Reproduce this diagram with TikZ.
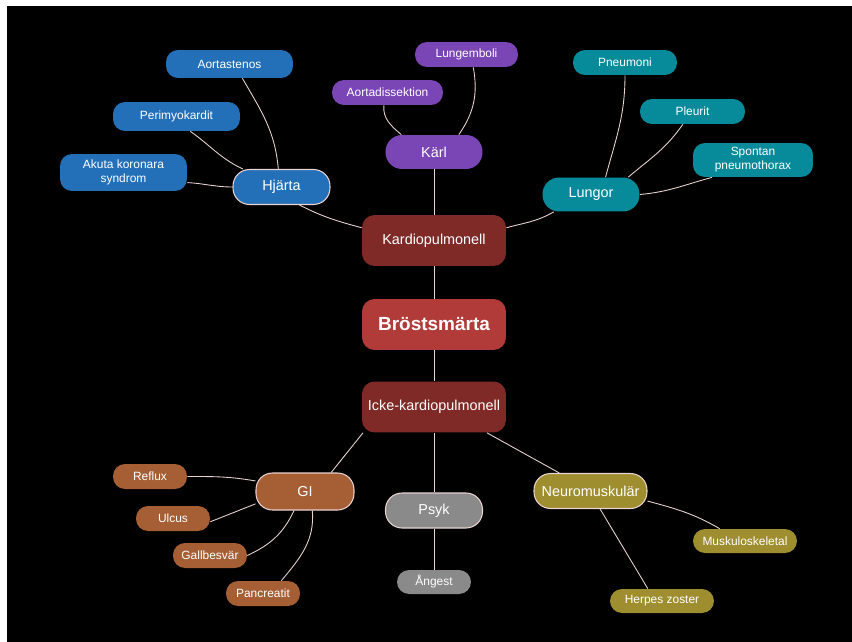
\documentclass[tikz,border=0pt]{standalone}
\usepackage{fontspec}
\setmainfont{Liberation Sans}
\usepackage{tikz}

\definecolor{brostred}{HTML}{B13B38}
\definecolor{kardred}{HTML}{7F2A27}
\definecolor{hjartblue}{HTML}{2370B9}
\definecolor{karlpurple}{HTML}{7A45B5}
\definecolor{lungteal}{HTML}{078B9B}
\definecolor{gibrown}{HTML}{A65E35}
\definecolor{psykgray}{HTML}{8A8A8A}
\definecolor{neuroolive}{HTML}{9F8E2F}
\definecolor{linkpink}{HTML}{E8D2D2}

\begin{document}
\begin{tikzpicture}[x=0.02cm,y=-0.02cm,
	trunk/.style={rounded corners=0.25cm, minimum width=2.88cm, minimum height=1.02cm, inner sep=0pt, text=white, font=\fontsize{8.2}{10}\selectfont},
	branch/.style={rounded corners=0.33cm, minimum width=1.94cm, minimum height=0.7cm, inner sep=0pt, text=white, font=\fontsize{8.2}{10}\selectfont},
	ringed/.style={draw=linkpink, line width=0.6pt},
	leaf/.style={rounded corners=0.24cm, inner sep=0pt, text=white, align=center, font=\fontsize{6.8}{8}\selectfont},
	link/.style={draw=linkpink, line width=0.5pt}]
	% background
	\fill[white] (0,0) rectangle (852,642);
	\fill[black] (7,6) rectangle (852,642);

	% centre
	\node[trunk, fill=brostred, font=\fontsize{10.8}{12}\selectfont\bfseries] (brost) at (434,324.5) {Bröstsmärta};
	\node[trunk, fill=kardred] (kardio) at (434,240.5) {Kardiopulmonell};
	\node[trunk, fill=kardred] (icke) at (434,407) {Icke-kardiopulmonell};

	% branches
	\node[branch, ringed, fill=hjartblue] (hjarta) at (281.5,187) {Hjärta};
	\node[branch, fill=karlpurple, minimum height=0.68cm] (karl) at (434,152) {Kärl};
	\node[branch, fill=lungteal, minimum height=0.68cm] (lungor) at (591,194.5) {Lungor};
	\node[branch, ringed, fill=gibrown, minimum width=1.96cm, minimum height=0.74cm] (gi) at (305,491.5) {GI};
	\node[branch, ringed, fill=psykgray] (psyk) at (434,510.5) {Psyk};
	\node[branch, ringed, fill=neuroolive, minimum width=2.26cm] (neuro) at (590.5,491) {Neuromuskulär};

	% leaves
	\foreach \n/\p/\w/\h/\t in {aortastenos/{229.5,64}/2.54/0.56/Aortastenos,
		perimyo/{176.5,116.5}/2.54/0.58/Perimyokardit,
		akuta/{123.5,172.5}/2.54/0.74/{Akuta koronara\\syndrom}}
	{
		\node[leaf, fill=hjartblue, minimum width=\w cm, minimum height=\h cm] (\n) at (\p) {\t};
	}
	\foreach \n/\p/\w/\t in {aortadiss/{387.5,92.5}/2.22/Aortadissektion,
		lungemboli/{466.5,54.5}/2.06/Lungemboli}
	{
		\node[leaf, fill=karlpurple, minimum width=\w cm, minimum height=0.5cm] (\n) at (\p) {\t};
	}
	\foreach \n/\p/\w/\h/\t in {pneumoni/{625,62.5}/2.08/0.5/Pneumoni,
		pleurit/{692.5,111.5}/2.1/0.5/Pleurit,
		spontan/{753,160}/2.4/0.68/{Spontan\\pneumothorax}}
	{
		\node[leaf, fill=lungteal, minimum width=\w cm, minimum height=\h cm] (\n) at (\p) {\t};
	}
	\foreach \n/\p/\t in {reflux/{150,476.5}/Reflux, ulcus/{173,518.5}/Ulcus,
		gallbesvar/{210,555.5}/Gallbesvär, pancreatit/{263,593.5}/Pancreatit}
	{
		\node[leaf, fill=gibrown, minimum width=1.48cm, minimum height=0.5cm] (\n) at (\p) {\t};
	}
	\node[leaf, fill=psykgray, minimum width=1.48cm, minimum height=0.48cm] (angest) at (434,582) {Ångest};
	\node[leaf, fill=neuroolive, minimum width=2.08cm, minimum height=0.48cm] (muskulo) at (745,541) {Muskuloskeletal};
	\node[leaf, fill=neuroolive, minimum width=2.08cm, minimum height=0.48cm] (herpes) at (662,601) {Herpes zoster};

	% links
	\draw[link] (brost) -- (kardio);
	\draw[link] (brost) -- (icke);
	\draw[link] (kardio) -- (karl);
	\draw[link] (icke) -- (psyk);
	\draw[link] (psyk) -- (angest);
	\draw[link] (hjarta.-45) to[out=-27,in=165] (kardio.170);
	\draw[link] (kardio.10) to[out=15,in=-150] (lungor.-155);
	\draw[link] (icke.-160) -- (gi.36);
	\draw[link] (icke.-26) -- (neuro.150);

	\draw[link] (aortastenos.-48) to[out=-60,in=95] (hjarta.100);
	\draw[link] (perimyo.-47) to[out=-35,in=155] (hjarta.155);
	\draw[link] (akuta.-9) to[out=-3,in=180] (hjarta.180);

	\draw[link] (aortadiss.-106) to[out=-95,in=140] (karl.152);
	\draw[link] (lungemboli.-62) to[out=-80,in=55] (karl.35);

	\draw[link] (pneumoni.south) to[out=-90,in=75] (lungor.50);
	\draw[link] (pleurit.-127) to[out=-125,in=40] (lungor.25);
	\draw[link] (spontan.-157) to[out=-165,in=5] (lungor.0);

	\draw[link] (reflux.east) to[out=0,in=170] (gi.168);
	\draw[link] (ulcus.-5) -- (gi.-166);
	\draw[link] (gallbesvar.east) to[out=25,in=-115] (gi.-120);
	\draw[link] (pancreatit.35) to[out=50,in=-85] (gi.-69);

	\draw[link] (neuro.-10) to[out=-15,in=150] (muskulo.154);
	\draw[link] (neuro.-62) -- (herpes.139);
\end{tikzpicture}
\end{document}
